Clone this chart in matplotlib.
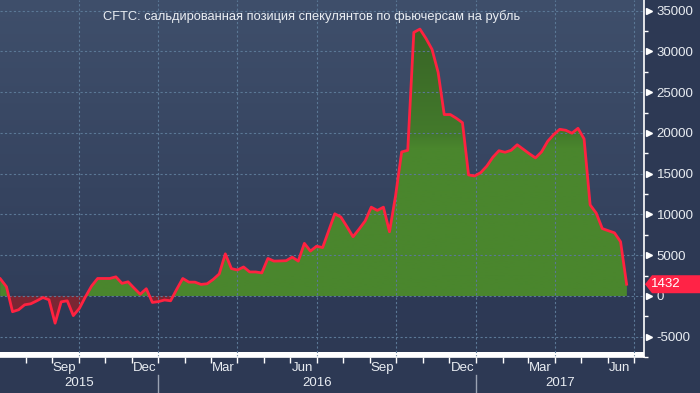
import matplotlib
matplotlib.use('Agg')
import matplotlib.pyplot as plt
import matplotlib.dates as mdates
from matplotlib.colors import LinearSegmentedColormap
from matplotlib.path import Path
from matplotlib.patches import Polygon
from matplotlib.transforms import IdentityTransform, blended_transform_factory
import numpy as np
import pandas as pd

# weekly net speculative position, first week ends 2015-07-03
values = [2090, 1125, -1940, -1700, -1090, -970, -600, -200, -480, -3350,
          -730, -600, -2420, -1530, -100, 1210, 2140, 2140, 2140, 2340,
          1540, 1730, 950, 200, 880, -800, -700, -500, -600, 800,
          2140, 1690, 1690, 1410, 1490, 2020, 2700, 5160, 3350, 3180,
          3550, 2940, 2940, 2820, 4600, 4270, 4290, 4320, 4760, 4270,
          6450, 5500, 6100, 5930, 8000, 10080, 9680, 8500, 7260, 8200,
          9200, 10890, 10490, 10890, 7870, 12300, 17670, 17870, 32340, 32750,
          31600, 30250, 27430, 22260, 22260, 21800, 21260, 14850, 14720, 15130,
          15930, 17020, 17820, 17630, 17870, 18550, 18000, 17450, 16940, 17670,
          18960, 19800, 20450, 20330, 19970, 20570, 19280, 11170, 10160, 8260,
          8000, 7740, 6650, 1432]
dates = pd.date_range('2015-07-03', periods=len(values), freq='W-FRI')

month_labels = ['Sep', 'Dec', 'Mar', 'Jun', 'Sep', 'Dec', 'Mar', 'Jun']
month_dates = ['2015-09-15', '2015-12-16', '2016-03-16', '2016-06-15',
               '2016-09-15', '2016-12-16', '2017-03-16', '2017-06-15']
years = ['2015', '2016', '2017']
title = 'CFTC: сальдированная позиция спекулянтов по фьючерсам на рубль'

W, H = 700, 393
txt = '#e9edf2'
plt.rcParams['font.family'] = ['Liberation Sans', 'DejaVu Sans']

fig = plt.figure(figsize=(W / 100, H / 100), dpi=100, facecolor='#2d3954')
ax = fig.add_axes([0, 36 / H, 644 / W, 357 / H])

x = mdates.date2num(dates)
v = np.array(values, dtype=float)
xmin = mdates.date2num(pd.Timestamp('2015-07-02 14:00'))
xmax = mdates.date2num(pd.Timestamp('2017-07-13'))
ymin, ymax = -6900, 36320
ax.set_xlim(xmin, xmax)
ax.set_ylim(ymin, ymax)

# background gradient
bg = LinearSegmentedColormap.from_list('bg', [(0, '#2d3954'), (0.16, '#2e3a56'),
                                              (0.17, '#313e5a'), (1, '#3f4f6b')])
ax.imshow(np.linspace(0, 1, 256).reshape(-1, 1), extent=[xmin, xmax, ymin, ymax],
          origin='lower', aspect='auto', cmap=bg, zorder=0)

# positive fill with gradient, negative fill flat red
pos = ax.fill_between(x, v, 0, where=v >= 0, interpolate=True, color='#4a862d',
                      lw=0, zorder=1)
gcm = LinearSegmentedColormap.from_list('g', [(0, '#4a862d'), (0.55, '#4a862d'),
                                              (0.6, '#437a2b'), (1, '#386326')])
im = ax.imshow(np.linspace(0, 1, 256).reshape(-1, 1), extent=[xmin, xmax, 0, 33000],
               origin='lower', aspect='auto', cmap=gcm, zorder=2)
im.set_clip_path(Path.make_compound_path(*pos.get_paths()), transform=ax.transData)
ax.fill_between(x, v, 0, where=v <= 0, interpolate=True, color='#7a2633',
                lw=0, zorder=2)
ax.plot(x, v, color='#ff2240', lw=2, zorder=4, solid_joinstyle='round')

# grid and ticks
ax.xaxis.set_major_locator(mdates.MonthLocator(bymonth=[1, 4, 7, 10]))
ax.xaxis.set_minor_locator(mdates.MonthLocator())
ax.xaxis.set_major_formatter(plt.NullFormatter())
ax.yaxis.tick_right()
ax.set_yticks(np.arange(-5000, 35001, 5000))
ax.set_yticks(np.arange(-7500, 36000, 2500), minor=True)
ax.grid(True, which='major', color='#5b7896', ls=(0, (2, 2)), lw=0.8, zorder=3)
ax.set_axisbelow(False)

for s in ['left', 'top']:
    ax.spines[s].set_visible(False)
for s in ['right', 'bottom']:
    ax.spines[s].set_color('white')
    ax.spines[s].set_linewidth(1.2)
    ax.spines[s].set_zorder(6)

ax.tick_params(axis='x', which='both', colors='white', length=4, width=1)
ax.tick_params(axis='y', which='major', colors=txt, labelsize=9.5, length=0, pad=9)
ax.tick_params(axis='y', which='minor', colors='white', length=3, width=1)
ax.set_yticklabels([str(t) for t in range(-5000, 35001, 5000)])

# triangle tick markers
tr = blended_transform_factory(ax.transAxes, ax.transData)
ax.plot([1.008] * 9, np.arange(-5000, 35001, 5000), ls='none', marker='>',
        ms=5, color='white', transform=tr, clip_on=False, zorder=7)

# month and year labels
xt = blended_transform_factory(ax.transData, ax.transAxes)
for lab, d in zip(month_labels, month_dates):
    ax.text(mdates.date2num(pd.Timestamp(d)), -0.032, lab, transform=xt,
            ha='center', va='center', color=txt, fontsize=9.5)
bounds = [xmin, mdates.date2num(pd.Timestamp('2016-01-01')),
          mdates.date2num(pd.Timestamp('2017-01-01')), xmax]
for i, yr in enumerate(years):
    ax.text((bounds[i] + bounds[i + 1]) / 2, -0.073, yr, transform=xt,
            ha='center', va='center', color=txt, fontsize=9.5)
for b in bounds[1:3]:
    ax.plot([b, b], [-0.05, -0.1], transform=xt, color='#9aa3b3', lw=1,
            clip_on=False)

fig.text(103 / W, 1 - 17 / H, title, ha='left', va='center', color=txt, fontsize=9.3)

# last value tag
fig.canvas.draw()
yd = ax.transData.transform((0, values[-1]))[1]
tag = Polygon([(645, yd), (652, yd + 9), (700, yd + 9), (700, yd - 9), (652, yd - 9)],
              closed=True, transform=IdentityTransform(), facecolor='#ff2346',
              edgecolor='none')
fig.add_artist(tag)
fig.text(651 / W, yd / H, str(values[-1]), ha='left', va='center', color='white',
         fontsize=9.5)

fig.savefig('out.png', dpi=100, facecolor=fig.get_facecolor())
